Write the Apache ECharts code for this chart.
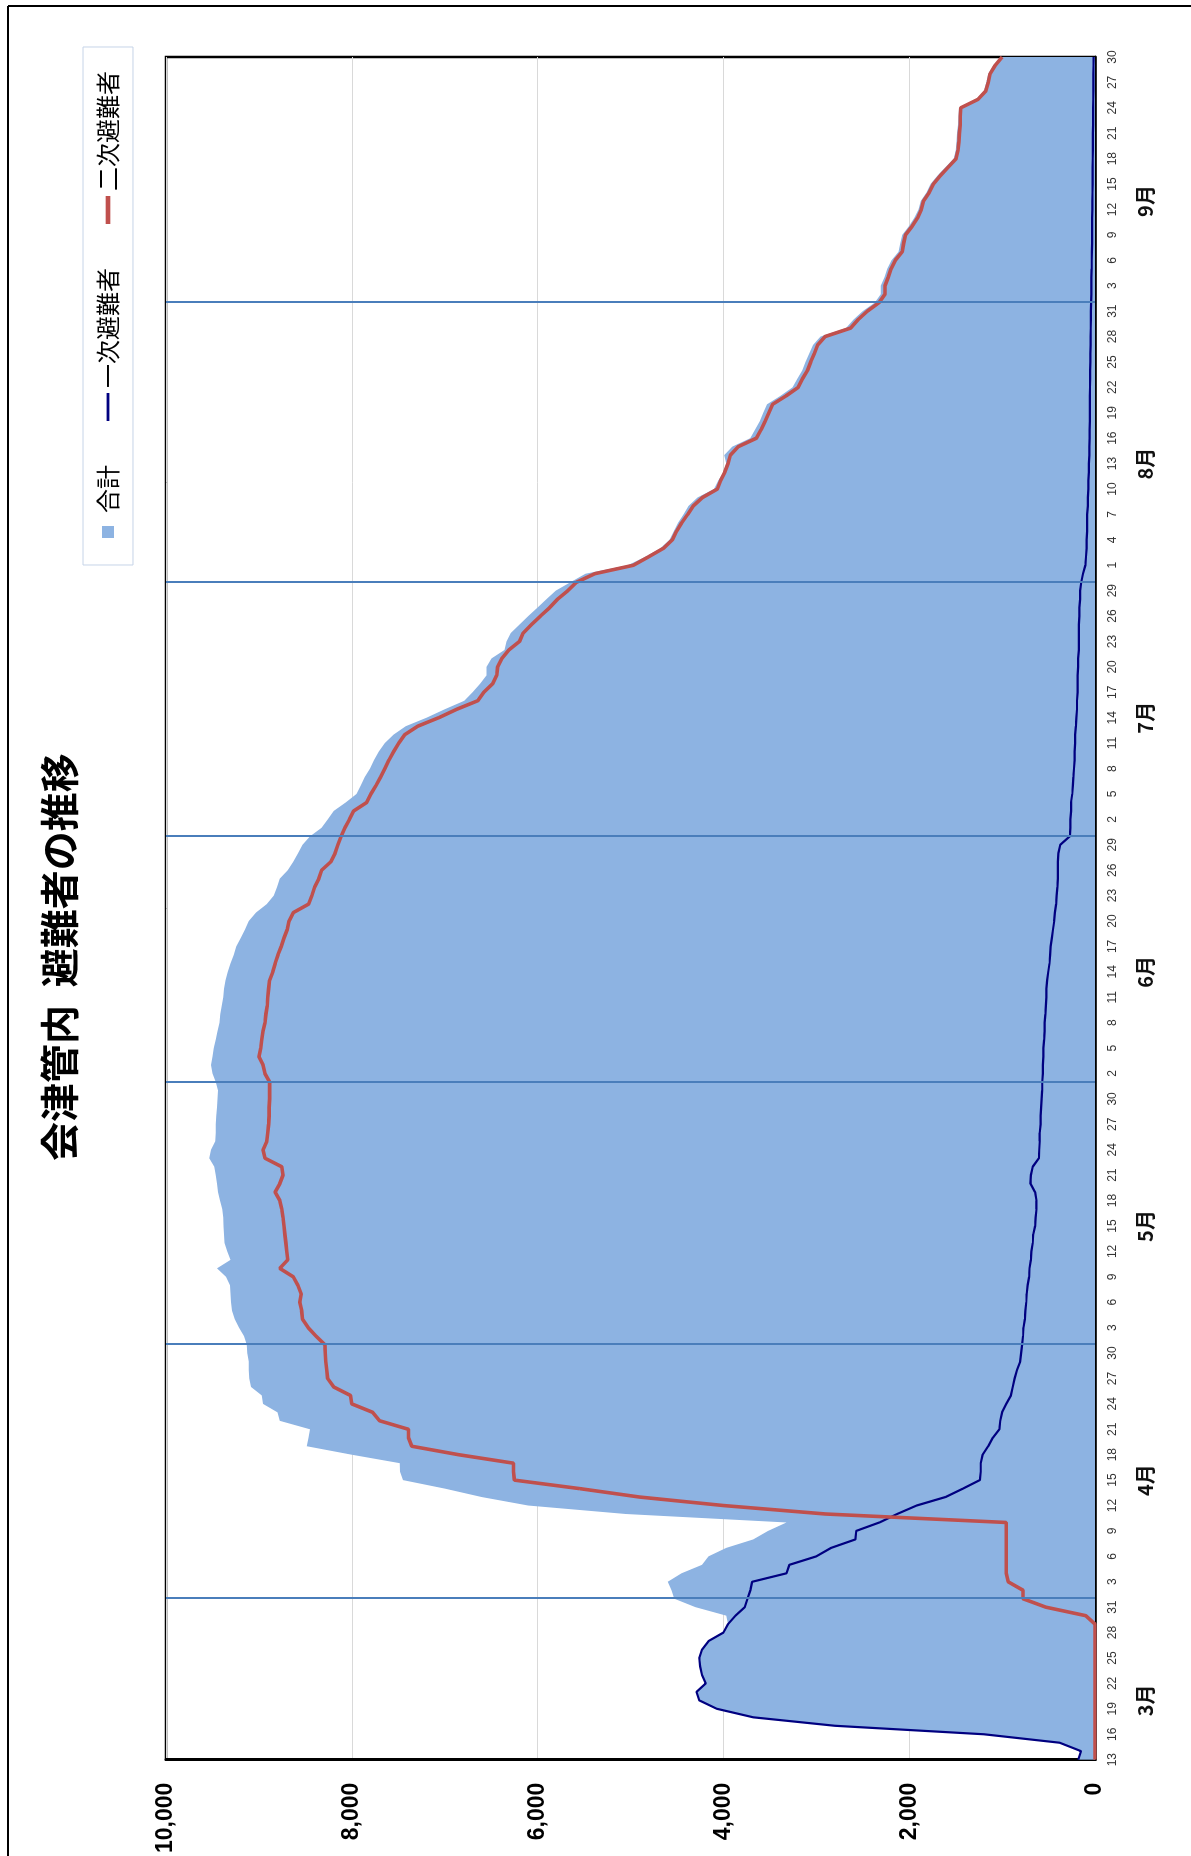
<!DOCTYPE html>
<html>
<head>
<meta charset="utf-8">
<script src="https://cdn.jsdelivr.net/npm/echarts@6/dist/echarts.min.js"></script>
<style>
html,body{margin:0;padding:0;background:#fff;overflow:hidden;width:1191px;height:1856px;}
#wrap{position:absolute;left:0;top:0;width:1856px;height:1191px;transform-origin:0 0;transform:translate(0,1856px) rotate(-90deg);}
#chart{width:1856px;height:1191px;}
</style>
</head>
<body>
<div id="wrap"><div id="chart"></div></div>
<script>
// ---- data ----
const monthLengths = [[3,13,31],[4,1,30],[5,1,31],[6,1,30],[7,1,31],[8,1,31],[9,1,30]];
const dates = [];
monthLengths.forEach(([m, s, e]) => { for (let d = s; d <= e; d++) dates.push(m + '/' + d); });

const monthNames = ['3月','4月','5月','6月','7月','8月','9月'];
const monthLabelDates = ['3/20','4/15','5/15','6/14','7/14','8/13','9/13'];
const monthLineDates = ['4/1','5/1','6/1','6/30','7/30','9/1'];

const seriesNames = ['合計','一次避難者','二次避難者'];

const total = [
180,150,380,1200,2800,3680,4070,4260,4290,4190,
4230,4250,4260,4230,4160,4000,3950,3970,4300,4530,
4560,4600,4450,4230,4160,3970,3680,3520,3320,5050,
6100,6600,7000,7450,7480,7485,8000,8485,8465,8450,
8775,8800,8955,8970,9085,9105,9110,9110,9125,9130,
9160,9215,9260,9290,9300,9305,9310,9355,9450,9305,
9340,9370,9375,9380,9385,9395,9420,9440,9450,9465,
9480,9535,9515,9470,9465,9465,9460,9450,9445,9440,
9465,9500,9515,9500,9485,9465,9445,9425,9415,9400,
9385,9375,9360,9335,9305,9270,9245,9195,9150,9110,
9030,8915,8840,8805,8775,8690,8630,8580,8530,8450,
8325,8260,8195,8065,7950,7905,7860,7805,7760,7710,
7645,7550,7420,7195,7000,6790,6700,6620,6550,6550,
6495,6355,6335,6290,6195,6100,6000,5905,5805,5645,
5485,5030,4840,4680,4580,4535,4490,4430,4375,4280,
4100,4055,4000,3970,3990,3905,3710,3660,3610,3570,
3530,3385,3255,3205,3150,3115,3075,3035,2955,2680,
2600,2500,2370,2305,2305,2265,2235,2190,2115,2095,
2075,2005,1945,1900,1875,1815,1770,1695,1610,1520,
1500,1490,1485,1475,1470,1465,1280,1195,1170,1150,
1095,1015
];

const primary = [
180,150,380,1200,2800,3680,4070,4260,4290,4190,
4230,4250,4260,4230,4160,4000,3950,3870,3770,3740,
3710,3690,3320,3290,3000,2840,2580,2570,2320,2130,
1920,1610,1420,1240,1230,1230,1210,1150,1100,1030,
1020,1000,955,905,885,865,840,805,795,785,
775,770,755,750,740,735,725,710,705,690,
685,670,665,645,640,630,630,645,695,690,
670,605,600,595,595,585,585,580,575,570,
568,561,561,555,555,548,542,542,535,529,
523,523,516,503,490,484,477,465,452,439,
432,419,413,406,400,400,400,394,374,271,
265,265,258,258,245,239,232,226,219,219,
213,213,206,200,194,194,187,187,187,181,
181,174,174,174,174,168,168,161,161,148,
129,103,97,90,90,84,84,84,77,77,
71,71,65,65,60,60,58,58,56,56,
55,55,54,52,52,50,50,48,48,46,
45,44,42,40,40,38,36,35,34,32,
32,30,30,28,28,27,26,25,25,24,
23,22,22,21,20,20,19,18,18,17,
16,15
];

const secondary = [
0,0,0,0,0,0,0,0,0,0,
0,0,0,0,0,0,0,100,530,775,
775,935,955,955,955,955,955,955,955,2900,
4000,4900,5550,6250,6260,6260,6850,7355,7390,7390,
7700,7775,8000,8015,8195,8260,8270,8280,8285,8290,
8385,8470,8530,8540,8560,8545,8580,8630,8775,8690,
8700,8710,8720,8730,8740,8755,8775,8825,8775,8740,
8755,8935,8955,8915,8905,8895,8890,8890,8885,8885,
8885,8935,8955,9000,8980,8970,8955,8935,8925,8910,
8905,8895,8885,8850,8825,8795,8760,8730,8695,8675,
8630,8465,8430,8400,8355,8325,8225,8180,8150,8115,
8075,8025,7980,7840,7795,7740,7690,7645,7600,7550,
7495,7430,7290,7065,6870,6645,6580,6485,6440,6430,
6385,6310,6195,6155,6065,5970,5870,5785,5675,5580,
5385,4970,4805,4645,4550,4505,4450,4385,4325,4225,
4065,4030,3985,3950,3925,3840,3645,3595,3550,3510,
3470,3325,3195,3150,3095,3060,3020,2985,2905,2630,
2550,2450,2325,2260,2260,2225,2195,2150,2075,2060,
2040,1970,1910,1870,1845,1785,1740,1665,1580,1495,
1475,1465,1460,1450,1450,1445,1260,1175,1150,1130,
1075,1000
];

// ---- chart ----
const JP = '"Noto Sans CJK JP", sans-serif';
const NUM = '"Liberation Sans", Arial, "Noto Sans CJK JP", sans-serif';
const chart = echarts.init(document.getElementById('chart'), null, {renderer: 'canvas', width: 1856, height: 1191});

const fmtThousands = v => String(v).replace(/\B(?=(\d{3})+(?!\d))/g, ',');

chart.setOption({
  animation: false,
  backgroundColor: '#ffffff',
  title: {
    text: '会津管内  避難者の推移',
    left: 690, top: 35,
    textStyle: {fontSize: 39, fontWeight: 'bold', fontFamily: JP, color: '#000'}
  },
  legend: {
    right: 47, top: 83,
    orient: 'horizontal',
    backgroundColor: '#fff',
    borderColor: '#c6d4e8', borderWidth: 1,
    padding: [13, 24, 13, 27],
    itemWidth: 28, itemHeight: 12, itemGap: 44,
    textStyle: {fontSize: 24, fontFamily: JP, color: '#000'},
    data: [
      {name: seriesNames[0], icon: 'path://M0,0H10V10H0Z'},
      {name: seriesNames[1], icon: 'path://M0,0H30V3H0Z'},
      {name: seriesNames[2], icon: 'path://M0,0H30V5H0Z'}
    ]
  },
  grid: {left: 92, right: 57, top: 166, bottom: 96, show: true, borderColor: '#000', borderWidth: 2.5, backgroundColor: 'transparent'},
  xAxis: [
    {
      type: 'category', data: dates, boundaryGap: false, position: 'bottom',
      axisLine: {show: true, lineStyle: {color: '#000', width: 2.5}},
      axisTick: {show: false},
      splitLine: {show: false},
      axisLabel: {interval: 2, formatter: v => v.split('/')[1], fontSize: 12, fontFamily: NUM, color: '#333', margin: 12}
    },
    {
      type: 'category', data: dates, boundaryGap: false, position: 'bottom', offset: 30,
      axisLine: {show: false}, axisTick: {show: false}, splitLine: {show: false},
      axisLabel: {
        interval: (i, v) => monthLabelDates.indexOf(v) >= 0,
        formatter: v => monthNames[monthLabelDates.indexOf(v)] || '',
        fontSize: 20, fontWeight: 'bold', fontFamily: JP, color: '#111', margin: 10
      }
    }
  ],
  yAxis: {
    type: 'value', min: 0, max: 10000, interval: 2000,
    axisLine: {show: true, lineStyle: {color: '#000', width: 3}},
    axisTick: {show: false},
    splitLine: {show: true, lineStyle: {color: '#d9d9d9', width: 1}},
    axisLabel: {formatter: fmtThousands, fontSize: 23, fontWeight: 'bold', fontFamily: NUM, color: '#000', margin: 23}
  },
  graphic: [
    {type: 'line', shape: {x1: 0, y1: 8, x2: 1850, y2: 8}, style: {stroke: '#000', lineWidth: 2}},
    {type: 'line', shape: {x1: 1850, y1: 8, x2: 1850, y2: 1191}, style: {stroke: '#000', lineWidth: 2}}
  ],
  series: [
    {
      name: seriesNames[0], type: 'line', data: total, xAxisIndex: 0,
      color: '#8db3e2', symbol: 'none', showSymbol: false,
      lineStyle: {width: 0}, areaStyle: {color: '#8db3e2', opacity: 1}, z: 1,
      markLine: {
        silent: true, symbol: ['none', 'none'], label: {show: false},
        lineStyle: {color: '#4a7ebb', width: 2, type: 'solid'},
        data: monthLineDates.map(d => ({xAxis: d}))
      }
    },
    {
      name: seriesNames[1], type: 'line', data: primary, xAxisIndex: 0,
      color: '#000080', symbol: 'none', showSymbol: false,
      lineStyle: {width: 2.2, color: '#000080'}, z: 3
    },
    {
      name: seriesNames[2], type: 'line', data: secondary, xAxisIndex: 0,
      color: '#c0504d', symbol: 'none', showSymbol: false,
      lineStyle: {width: 3.6, color: '#c0504d'}, z: 4
    }
  ]
});
</script>
</body>
</html>
